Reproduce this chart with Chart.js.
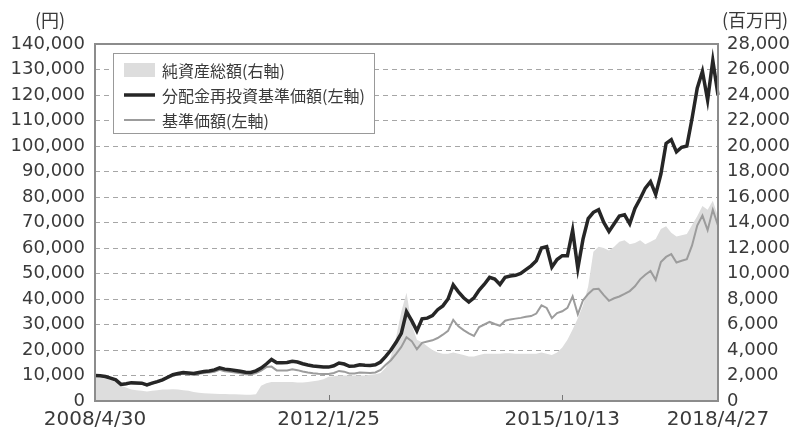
<!DOCTYPE html>
<html>
<head>
    <meta charset="utf-8">
    <title>基準価額・純資産総額の推移</title>
    <script src="https://cdn.jsdelivr.net/npm/chart.js"></script>
    <style>
        html, body { margin: 0; padding: 0; background: #fff; }
        #wrap { width: 791px; height: 429px; }
    </style>
</head>
<body>
<div id="wrap"><canvas id="navChart" width="791" height="429"></canvas></div>

<script>
// 月次データ (2008/4 〜 2018/4)
const months = [
    '2008/4','2008/5','2008/6','2008/7','2008/8','2008/9','2008/10','2008/11','2008/12',
    '2009/1','2009/2','2009/3','2009/4','2009/5','2009/6','2009/7','2009/8','2009/9','2009/10','2009/11','2009/12',
    '2010/1','2010/2','2010/3','2010/4','2010/5','2010/6','2010/7','2010/8','2010/9','2010/10','2010/11','2010/12',
    '2011/1','2011/2','2011/3','2011/4','2011/5','2011/6','2011/7','2011/8','2011/9','2011/10','2011/11','2011/12',
    '2012/1','2012/2','2012/3','2012/4','2012/5','2012/6','2012/7','2012/8','2012/9','2012/10','2012/11','2012/12',
    '2013/1','2013/2','2013/3','2013/4','2013/5','2013/6','2013/7','2013/8','2013/9','2013/10','2013/11','2013/12',
    '2014/1','2014/2','2014/3','2014/4','2014/5','2014/6','2014/7','2014/8','2014/9','2014/10','2014/11','2014/12',
    '2015/1','2015/2','2015/3','2015/4','2015/5','2015/6','2015/7','2015/8','2015/9','2015/10','2015/11','2015/12',
    '2016/1','2016/2','2016/3','2016/4','2016/5','2016/6','2016/7','2016/8','2016/9','2016/10','2016/11','2016/12',
    '2017/1','2017/2','2017/3','2017/4','2017/5','2017/6','2017/7','2017/8','2017/9','2017/10','2017/11','2017/12',
    '2018/1','2018/2','2018/3','2018/4'
];

// x軸に表示する日付
const xTickLabels = {
    '2008/4': '2008/4/30',
    '2012/1': '2012/1/25',
    '2015/10': '2015/10/13',
    '2018/4': '2018/4/27'
};

// 分配金再投資基準価額 (円, 左軸)
const navReinvested = [
    10000, 9900, 9600, 9000, 8300, 6500, 6800, 7200, 7100,
    7000, 6300, 7000, 7600, 8300, 9300, 10300, 10800, 11200, 11000, 10800, 11200,
    11600, 11800, 12200, 13000, 12500, 12300, 12000, 11700, 11300, 11200, 11800, 12900,
    14500, 16300, 15000, 15000, 15100, 15600, 15300, 14600, 14100, 13700, 13500, 13300,
    13300, 13800, 14900, 14500, 13600, 13700, 14200, 14000, 13900, 14200, 15300, 17500,
    20000, 23000, 26500, 35000, 31500, 27500, 32200, 32500, 33500, 35800, 37300, 40000,
    45500, 42800, 40500, 38800, 40500, 43500, 45800, 48500, 47800, 45700, 48500, 49000,
    49300, 50000, 51500, 53000, 55000, 60000, 60500, 52500, 55500, 57000, 57000, 67000,
    52000, 63500, 71500, 74000, 75000, 70000, 66500, 69500, 72500, 73000, 69500, 75500,
    79300, 83500, 86000, 81000, 89000, 101000, 102500, 97700, 99500, 100000, 110800, 122700,
    129300, 118000, 133500, 120000
];

// 基準価額 (円, 左軸)
const nav = [
    10000, 9800, 9500, 8900, 8200, 6400, 6700, 7000, 6900,
    6800, 6100, 6800, 7400, 8100, 9000, 9900, 10400, 10700, 10500, 10300, 10700,
    11000, 11200, 11500, 12200, 11700, 11500, 11200, 10900, 10500, 10400, 11000, 11900,
    13300, 13500, 12000, 12000, 12000, 12400, 12100, 11600, 11200, 10900, 10700, 10600,
    10600, 11000, 11800, 11500, 10800, 10800, 11200, 11100, 11000, 11200, 12200, 14200,
    16000, 18500, 21200, 25000, 23500, 20300, 22800, 23300, 23800, 24700, 26000, 27500,
    31800, 29300, 27800, 26500, 25500, 29000, 30000, 31000, 30200, 29500, 31500, 32000,
    32300, 32600, 33000, 33300, 34300, 37500, 36500, 32500, 34500, 35200, 36500, 41000,
    34000, 39500, 42000, 43800, 44000, 41500, 39300, 40300, 41000, 42000, 43100, 45000,
    47700, 49500, 51000, 47500, 54500, 56500, 57600, 54300, 55000, 55600, 61000, 68800,
    72700, 67000, 75000, 68800
];

// 純資産総額 (百万円, 右軸)
const netAssets = [
    1900, 1850, 1800, 1700, 1500, 1200, 1050, 900, 850,
    800, 750, 800, 850, 900, 900, 920, 900, 850, 800, 700, 650,
    600, 580, 560, 550, 540, 530, 520, 510, 500, 500, 520, 1200,
    1400, 1500, 1500, 1500, 1500, 1500, 1450, 1450, 1500, 1550, 1600, 1700,
    1900, 1950, 2000, 2000, 2000, 2000, 2000, 2000, 2050, 2100, 2200, 2600,
    3500, 5000, 7000, 8500, 6000, 4800, 4600, 4300, 4000, 3800, 3700, 3700,
    3800, 3700, 3600, 3500, 3500, 3600, 3700, 3700, 3700, 3700, 3750, 3750,
    3700, 3700, 3700, 3700, 3700, 3800, 3700, 3600, 3800, 4200, 4800, 5600,
    6500, 7500, 9000, 11700, 12100, 12000, 11800, 12100, 12500, 12600, 12300, 12400,
    12600, 12300, 12500, 12700, 13500, 13700, 13200, 12900, 13000, 13100, 13800, 14500,
    15300, 15000, 15700, 14500
];

const numFont = 'DejaVu Sans, Noto Sans CJK JP, sans-serif';
const jpFont = 'Noto Sans CJK JP, sans-serif';
const textColor = '#3a3a3a';

// 枠・凡例・単位
const framePlugin = {
    id: 'frame',
    afterDatasetsDraw(chart) {
        const { ctx, chartArea: a, scales } = chart;
        ctx.save();

        // x軸の内向き目盛
        ctx.strokeStyle = '#777';
        ctx.lineWidth = 1;
        months.forEach((m, i) => {
            if (!xTickLabels[m]) return;
            const x = Math.round(scales.x.getPixelForValue(i)) + 0.5;
            ctx.beginPath();
            ctx.moveTo(x, a.bottom);
            ctx.lineTo(x, a.bottom - 6);
            ctx.stroke();
        });

        // 外枠
        ctx.strokeStyle = '#8c8c8c';
        ctx.lineWidth = 2;
        ctx.strokeRect(a.left, a.top, a.right - a.left, a.bottom - a.top);

        // 凡例
        const lx = a.left + 18, ly = a.top + 9;
        ctx.fillStyle = '#fff';
        ctx.fillRect(lx, ly, 261, 80);
        ctx.strokeStyle = '#999';
        ctx.lineWidth = 1;
        ctx.strokeRect(lx + 0.5, ly + 0.5, 261, 80);

        const ds = chart.data.datasets;
        const rows = [ds[2], ds[0], ds[1]];
        ctx.font = '16px ' + jpFont;
        ctx.textBaseline = 'middle';
        ctx.textAlign = 'left';
        rows.forEach((d, k) => {
            const cy = ly + 17 + k * 25;
            if (d.fill) {
                ctx.fillStyle = d.backgroundColor;
                ctx.fillRect(lx + 11, cy - 7, 31, 14);
            } else {
                ctx.strokeStyle = d.borderColor;
                ctx.lineWidth = d.borderWidth;
                ctx.beginPath();
                ctx.moveTo(lx + 11, cy);
                ctx.lineTo(lx + 42, cy);
                ctx.stroke();
            }
            ctx.fillStyle = textColor;
            ctx.fillText(d.label, lx + 49, cy + 1);
        });

        // 単位
        ctx.font = '18px ' + jpFont;
        ctx.fillStyle = textColor;
        ctx.textAlign = 'center';
        ctx.fillText('(円)', 50, 20);
        ctx.textAlign = 'left';
        ctx.fillText('(百万円)', 722, 20);

        ctx.restore();
    }
};

new Chart(document.getElementById('navChart'), {
    data: {
        labels: months,
        datasets: [{
            type: 'line',
            label: '分配金再投資基準価額(左軸)',
            data: navReinvested,
            yAxisID: 'y',
            borderColor: '#262626',
            borderWidth: 3.5,
            pointRadius: 0,
            tension: 0,
            order: 1
        },
        {
            type: 'line',
            label: '基準価額(左軸)',
            data: nav,
            yAxisID: 'y',
            borderColor: '#9c9c9c',
            borderWidth: 2,
            pointRadius: 0,
            tension: 0,
            order: 2
        },
        {
            type: 'line',
            label: '純資産総額(右軸)',
            data: netAssets,
            yAxisID: 'y2',
            borderWidth: 0,
            borderColor: 'rgba(0,0,0,0)',
            backgroundColor: '#dddddd',
            fill: 'origin',
            pointRadius: 0,
            tension: 0,
            order: 3
        }]
    },
    options: {
        responsive: false,
        animation: false,
        layout: { padding: { top: 44 } },
        plugins: {
            legend: { display: false },
            tooltip: { enabled: false }
        },
        scales: {
            x: {
                type: 'category',
                offset: false,
                grid: { display: false, drawTicks: false },
                border: { display: false },
                ticks: {
                    autoSkip: false,
                    maxRotation: 0,
                    minRotation: 0,
                    padding: 7,
                    color: textColor,
                    font: { family: numFont, size: 20 },
                    callback: (v, i) => xTickLabels[months[i]] || ''
                },
                afterFit: s => { s.height = 28; }
            },
            y: {
                position: 'left',
                min: 0,
                max: 140000,
                grid: { color: '#a6a6a6', lineWidth: 1, drawTicks: false },
                border: { display: false, dash: [5, 4] },
                ticks: {
                    stepSize: 10000,
                    padding: 10,
                    color: textColor,
                    font: { family: numFont, size: 18 },
                    callback: v => v.toLocaleString('en-US')
                },
                afterFit: s => { s.width = 95; }
            },
            y2: {
                position: 'right',
                min: 0,
                max: 28000,
                grid: { display: false, drawTicks: false },
                border: { display: false },
                ticks: {
                    stepSize: 2000,
                    padding: 9,
                    color: textColor,
                    font: { family: numFont, size: 18 },
                    callback: v => v.toLocaleString('en-US')
                },
                afterFit: s => { s.width = 73; }
            }
        }
    },
    plugins: [framePlugin]
});
</script>
</body>
</html>
